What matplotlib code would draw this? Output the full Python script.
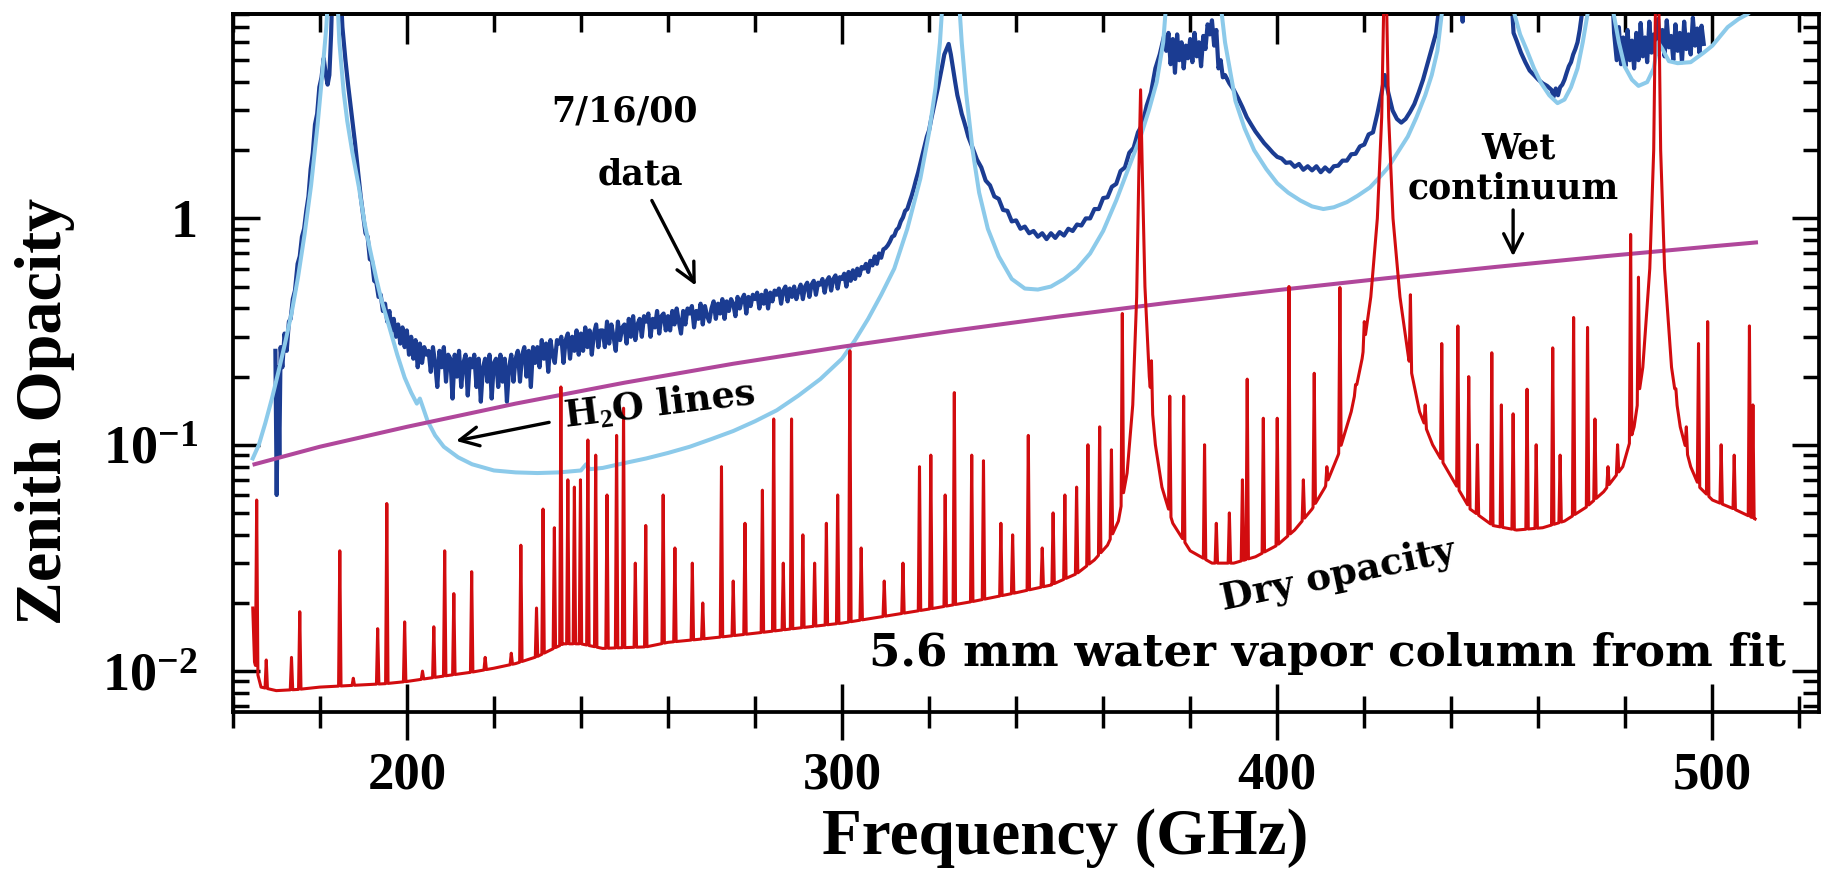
import numpy as np
import matplotlib
matplotlib.use("Agg")
import matplotlib.pyplot as plt
from matplotlib.ticker import FixedLocator, MultipleLocator, LogLocator, NullFormatter

# ---------------- data ----------------
# wet continuum (magenta)
wet_freq = [165, 180, 200, 225, 250, 275, 300, 325, 350, 375, 400, 425, 450, 475, 500, 510]
wet_tau = [0.082, 0.098, 0.12, 0.152, 0.188, 0.228, 0.271, 0.318, 0.369, 0.424,
           0.482, 0.544, 0.61, 0.68, 0.753, 0.783]

# model total opacity (light blue)
model_freq = [164.6, 166, 167.5, 169, 170.5, 172, 173.5, 175, 176.5, 178, 179.5, 180.5,
              181.5, 182.2, 183.8, 184.5, 185.5, 186.3, 187.5, 189, 190.3, 191.6, 193,
              194.2, 196, 197.8, 199.5, 201, 202.3, 203.0, 203.6, 204.8, 206.5, 208.5,
              211.8, 215, 220, 225, 230, 235, 240, 241.2, 242, 245, 250, 255, 260, 265,
              270, 275, 280, 285, 290, 295, 300, 303, 306, 309, 312, 315, 318, 320,
              321.5, 322.5, 323.5, 326.5, 327.5, 328.5, 330, 331.5, 333.5, 336, 339,
              342, 345, 348, 351, 354, 357, 360, 363, 366, 368.6, 370.5, 372.3, 373.8,
              375, 386.2, 388, 390.4, 392.5, 394.7, 397.5, 400, 402.5, 405.3, 408,
              410.6, 413, 416, 418.5, 421.3, 423.5, 425.5, 428, 430, 432, 434, 435.5,
              436.8, 437.8, 438.5, 453.5, 454.5, 455.8, 457.4, 459, 460.6, 462.5,
              464.4, 466, 467.5, 469, 470.2, 471.3, 472, 476.5, 477.3, 478.5, 479.8,
              481.5, 483, 485, 486.5, 487.5, 488.5, 490, 492, 495, 498, 500, 503.5,
              506, 508.1, 510]
model_tau = [0.087, 0.1, 0.125, 0.16, 0.21, 0.28, 0.38, 0.55, 0.85, 1.4, 2.6, 4.2,
             7.0, 12, 12, 6.0, 3.6, 2.7, 1.95, 1.37, 0.95, 0.72, 0.54,
             0.433, 0.33, 0.25, 0.198, 0.17, 0.152, 0.16, 0.148, 0.127, 0.11, 0.098,
             0.088, 0.082, 0.077, 0.0755, 0.075, 0.0755, 0.077, 0.082, 0.078, 0.079,
             0.083, 0.087, 0.092, 0.098, 0.106, 0.115, 0.127, 0.142, 0.165, 0.195,
             0.24, 0.29, 0.36, 0.46, 0.6, 0.9, 1.5, 2.4, 3.8, 6.0, 12, 12, 6.0, 3.6,
             2.0, 1.3, 0.9, 0.68, 0.54, 0.49, 0.485, 0.5, 0.54, 0.6, 0.7, 0.88, 1.2,
             1.7, 2.3, 3.0, 4.0, 6.0, 12, 12, 6.0, 3.3, 2.5, 2.0, 1.65, 1.43, 1.3,
             1.2, 1.13, 1.1, 1.12, 1.18, 1.26, 1.37, 1.52, 1.68, 2.0, 2.3, 2.8, 3.5,
             4.3, 5.5, 8.0, 12, 12, 8.0, 6.5, 5.5, 4.6, 3.97, 3.5, 3.23, 3.35, 3.8,
             4.6, 6.0, 8.0, 12, 12, 8.0, 6.0, 4.7, 4.1, 3.85, 4.0, 4.6, 6.0, 5.6,
             4.95, 4.85, 4.9, 5.4, 5.8, 7.0, 7.6, 8.0, 8.6]

# measured data 7/16/00 (dark blue): part near 183 GHz
data_a_freq = [169.8, 170.1, 170.4, 170.7, 171.0, 171.4, 171.9, 172.4, 172.9, 173.3,
               173.8, 174.3, 174.9, 175.4, 175.9, 176.4, 176.9, 177.4, 177.9, 178.4,
               178.9, 179.4, 179.9, 180.4, 180.9, 181.4, 181.8, 182.2, 182.6, 183.0,
               184.6, 185.2, 185.9, 186.5, 187.2, 188.1, 188.8, 189.4]
data_a_tau = [0.26, 0.06, 0.22, 0.09, 0.27, 0.22, 0.31, 0.26, 0.35, 0.36,
              0.44, 0.48, 0.63, 0.68, 0.83, 0.9, 1.08, 1.25, 1.65, 1.95,
              2.6, 2.9, 3.8, 4.2, 5.1, 4.3, 3.9, 4.3, 6.5, 12,
              12, 7.0, 5.0, 3.9, 3.0, 2.15, 1.6, 1.25]
# measured data, 190 - 324.5 GHz, sampled every 0.5 GHz
data_b_start, data_b_step = 190.0, 0.5
data_b_tau = [
    1.02, 0.86, 0.83, 0.66, 0.65, 0.53, 0.52, 0.45, 0.46, 0.39,
    0.42, 0.35, 0.39, 0.32, 0.36, 0.30, 0.34, 0.28, 0.33, 0.27,
    0.32, 0.25, 0.30, 0.24, 0.29, 0.22, 0.28, 0.23, 0.27, 0.25,
    0.26, 0.21, 0.27, 0.23, 0.18, 0.26, 0.22, 0.27, 0.19, 0.25,
    0.24, 0.16, 0.25, 0.20, 0.26, 0.18, 0.23, 0.25, 0.165, 0.24,
    0.22, 0.25, 0.18, 0.24, 0.155, 0.22, 0.24, 0.19, 0.25, 0.16,
    0.23, 0.24, 0.18, 0.25, 0.19, 0.24, 0.155, 0.22, 0.25, 0.19,
    0.24, 0.26, 0.19, 0.25, 0.27, 0.20, 0.26, 0.18, 0.27, 0.23,
    0.27, 0.22, 0.29, 0.24, 0.28, 0.21, 0.29, 0.25, 0.23, 0.29,
    0.28, 0.30, 0.23, 0.29, 0.31, 0.24, 0.30, 0.26, 0.32, 0.25,
    0.31, 0.26, 0.33, 0.27, 0.32, 0.25, 0.31, 0.34, 0.27, 0.32,
    0.32, 0.27, 0.35, 0.28, 0.34, 0.30, 0.26, 0.35, 0.29, 0.33,
    0.34, 0.28, 0.36, 0.30, 0.37, 0.29, 0.34, 0.36, 0.30, 0.37,
    0.35, 0.38, 0.30, 0.36, 0.33, 0.39, 0.31, 0.37, 0.38, 0.32,
    0.37, 0.32, 0.39, 0.34, 0.40, 0.35, 0.31, 0.39, 0.34, 0.40,
    0.38, 0.41, 0.33, 0.39, 0.36, 0.42, 0.34, 0.41, 0.37, 0.35,
    0.40, 0.43, 0.36, 0.42, 0.38, 0.44, 0.36, 0.43, 0.39, 0.44,
    0.42, 0.37, 0.45, 0.40, 0.44, 0.46, 0.38, 0.45, 0.41, 0.46,
    0.44, 0.47, 0.40, 0.46, 0.42, 0.48, 0.40, 0.47, 0.43, 0.48,
    0.46, 0.49, 0.42, 0.48, 0.50, 0.43, 0.49, 0.45, 0.50, 0.44,
    0.48, 0.51, 0.44, 0.50, 0.52, 0.45, 0.51, 0.53, 0.46, 0.52,
    0.51, 0.54, 0.47, 0.53, 0.55, 0.48, 0.54, 0.56, 0.49, 0.55,
    0.54, 0.57, 0.50, 0.58, 0.53, 0.59, 0.54, 0.60, 0.56, 0.61,
    0.60, 0.63, 0.58, 0.65, 0.62, 0.68, 0.63, 0.70, 0.67, 0.73,
    0.74, 0.76, 0.79, 0.83, 0.84, 0.89, 0.91, 0.97, 1.01, 1.08,
    1.10, 1.18, 1.26, 1.36, 1.48, 1.60, 1.75, 1.92, 2.10, 2.30,
    2.45, 2.75, 3.05, 3.40, 3.75, 4.2, 4.7, 5.3, 5.6, 5.9]
# measured data, 325 - 498 GHz
data_c_freq = [325.0, 325.5, 326.0, 326.5, 327.0, 327.5, 328.0, 328.5, 329.0, 330, 331, 332,
               333, 334, 335, 336, 337, 338, 339, 340, 341, 342, 343, 344, 345, 346, 347,
               348, 349, 350, 351, 352, 353, 354, 355, 356, 357, 358, 359, 360, 361, 362,
               363, 364, 365, 366, 367, 368, 369, 370, 371, 372, 373, 374, 374.5, 375,
               375.5, 376, 376.5, 377, 377.5, 378, 378.5, 379, 379.5, 380, 380.5, 381,
               381.5, 382, 382.5, 383, 383.5, 384, 384.5, 385, 385.5, 386, 386.5, 387,
               387.5, 388, 389, 390, 391, 392, 393, 394, 395, 396, 397, 398, 399, 400,
               401, 402, 403, 404, 405, 406, 407, 408, 409, 410, 411, 412, 413, 414, 415,
               416, 417, 418, 419, 420, 421, 422, 423, 424, 424.7, 425.5, 426.5, 427.5,
               428.5, 429.5, 430.5, 431.5, 432.5, 433.5, 434.5, 435.5, 436.5, 437.2, 438,
               442.0, 442.6, 443.2, 453.5, 454.3, 455, 456, 457, 458, 459, 460, 461, 462,
               463, 463.5, 464, 464.5, 465, 465.5, 466, 466.5, 467, 467.5, 468, 468.5,
               469, 469.5, 470, 470.5, 476.8, 477.4, 478, 478.5, 479, 479.5, 480, 480.5,
               481, 481.5, 482, 482.5, 483, 483.5, 484, 484.5, 485, 485.5, 486, 486.5,
               487, 487.5, 488, 488.5, 489, 489.5, 490, 490.5, 491, 491.5, 492, 492.5,
               493, 493.5, 494, 494.5, 495, 495.5, 496, 496.5, 497, 497.5, 498]
data_c_tau = [5.3, 4.6, 4.0, 3.5, 3.2, 2.9, 2.7, 2.5, 2.3, 2.05, 1.82, 1.68,
              1.47, 1.4, 1.25, 1.22, 1.09, 1.08, 0.97, 0.98, 0.9, 0.92, 0.86, 0.88, 0.83,
              0.86, 0.81, 0.86, 0.82, 0.87, 0.84, 0.9, 0.88, 0.94, 0.93, 1.0, 1.0, 1.1,
              1.1, 1.23, 1.24, 1.38, 1.42, 1.62, 1.68, 1.95, 2.05, 2.4, 2.6, 3.15, 3.6,
              4.6, 5.3, 6.4, 5.5, 6.6, 4.8, 6.2, 4.4, 6.5, 5.0, 6.0, 4.6, 5.8, 5.1, 6.2,
              4.9, 6.6, 5.2, 6.0, 4.7, 6.4, 5.6, 7.2, 6.5, 7.5, 5.8, 6.8, 4.6, 5.0, 4.2,
              4.3, 3.95, 3.7, 3.4, 3.1, 2.8, 2.6, 2.42, 2.28, 2.15, 2.05, 1.95, 1.87,
              1.84, 1.76, 1.77, 1.69, 1.74, 1.64, 1.7, 1.63, 1.7, 1.6, 1.68, 1.61, 1.7,
              1.71, 1.8, 1.8, 1.92, 1.93, 2.08, 2.12, 2.35, 2.4, 2.9, 3.6, 4.3, 3.6,
              3.0, 2.75, 2.65, 2.75, 2.95, 3.2, 3.6, 4.1, 4.8, 5.6, 6.6, 8.5, 12,
              12, 7.4, 12, 12, 6.6, 6.1, 5.4, 4.9, 4.5, 4.3, 4.1, 3.95, 3.85,
              3.7, 3.45, 3.75, 3.5, 3.8, 3.9, 4.1, 4.4, 4.7, 4.9, 5.3, 5.6,
              6.0, 6.8, 8.0, 12, 12, 6.6, 5.0, 7.0, 4.8, 6.3, 4.7, 6.8,
              5.0, 6.1, 4.6, 6.6, 5.0, 7.3, 5.2, 6.3, 4.9, 7.4, 5.4, 6.5,
              5.3, 7.6, 5.6, 6.8, 5.2, 7.5, 5.7, 6.4, 5.0, 7.2, 5.5, 6.6,
              4.9, 7.4, 5.6, 6.5, 5.3, 7.7, 5.8, 6.9, 5.4, 7.1, 5.9]

# dry opacity (red): smooth background incl. broad O2 lines ...
dry_base_freq = [164.6, 165.0, 166.5, 170, 175, 180, 185, 190, 195, 200, 205, 210, 215,
                 220, 225, 230, 233, 236, 240, 245, 250, 255, 260, 270, 280, 290, 300,
                 310, 320, 330, 340, 348, 354, 358, 361, 363.5, 365.5, 366.8, 367.7,
                 368.2, 368.6, 369.0, 369.6, 370.6, 372, 373.5, 376, 380, 385, 390, 395,
                 400, 404, 408, 411, 414, 417, 419.5, 421.5, 423, 424, 424.6, 425.0,
                 425.6, 426.6, 428.2, 430.2, 432.7, 435.7, 440, 444.3, 449.5, 455, 461,
                 466, 471, 475, 479.4, 482, 484, 485.6, 486.5, 487.0, 487.6, 488.1, 489.0,
                 490.6, 492.6, 495, 497, 500, 505, 509.8]
dry_base_tau = [0.019, 0.011, 0.0085, 0.0082, 0.0083, 0.0085, 0.0086, 0.0087, 0.0088,
                0.009, 0.0093, 0.0096, 0.0099, 0.0103, 0.0108, 0.0116, 0.0124, 0.0132,
                0.0132, 0.0126, 0.0127, 0.0128, 0.0134, 0.014, 0.0147, 0.0155, 0.0163,
                0.0175, 0.0188, 0.0203, 0.0222, 0.024, 0.027, 0.031, 0.036, 0.046, 0.075,
                0.15, 0.45, 1.6, 3.7, 1.6, 0.5, 0.2, 0.1, 0.065, 0.045, 0.034, 0.03, 0.03,
                0.032, 0.036, 0.042, 0.052, 0.065, 0.09, 0.14, 0.24, 0.45, 1.0, 2.8, 12,
                12, 2.8, 1.0, 0.45, 0.24, 0.14, 0.1, 0.072, 0.052, 0.044, 0.042, 0.043,
                0.046, 0.053, 0.062, 0.08, 0.12, 0.22, 0.6, 2.0, 12, 12, 2.0, 0.6, 0.22,
                0.12, 0.08, 0.065, 0.057, 0.052, 0.047]
# ... and the narrow line peaks on top of it
dry_line_freq = [165.5, 167.7, 173.5, 175.4, 184.6, 187.7, 193.3, 195.4, 199.5, 203.6,
                 206.2, 208.7, 210.8, 214.9, 218.0, 224.0, 226.2, 229.8, 231.3, 233.9,
                 235.4, 237.0, 238.5, 239.9, 241.6, 243.4, 246.0, 248.2, 249.8, 252.5,
                 254.9, 258.9, 261.6, 265.6, 268.0, 272.3, 275.0, 277.7, 281.7, 284.3,
                 286.5, 288.4, 291.0, 293.7, 296.4, 299.0, 301.8, 304.4, 309.7, 314.0,
                 317.8, 320.4, 323.7, 325.8, 329.8, 332.5, 336.5, 339.2, 342.8, 346.0,
                 348.5, 351.2, 353.9, 356.5, 359.2, 361.9, 364.4, 371.1, 375.3, 378.5,
                 383.3, 386.0, 389.0, 392.0, 393.1, 396.8, 400.0, 402.7, 406.0, 408.5,
                 411.4, 414.4, 418.0, 420.0, 430.6, 434.0, 437.8, 441.5, 444.0, 446.0,
                 449.3, 451.5, 454.2, 457.4, 459.5, 463.3, 465.0, 468.1, 471.3, 473.0,
                 476.0, 478.2, 481.2, 483.0, 491.6, 494.0, 496.8, 498.9, 502.0, 505.0,
                 508.5, 509.3]
dry_line_tau = [0.057, 0.0112, 0.0115, 0.0183, 0.034, 0.0093, 0.0154, 0.055, 0.0165, 0.010,
                0.0157, 0.034, 0.022, 0.0275, 0.0115, 0.012, 0.036, 0.019, 0.052, 0.043,
                0.18, 0.07, 0.065, 0.07, 0.105, 0.09, 0.06, 0.11, 0.145, 0.03,
                0.044, 0.06, 0.035, 0.03, 0.02, 0.08, 0.025, 0.045, 0.063, 0.13,
                0.03, 0.13, 0.04, 0.03, 0.045, 0.06, 0.26, 0.035, 0.025, 0.03,
                0.08, 0.09, 0.06, 0.17, 0.09, 0.085, 0.045, 0.04, 0.11, 0.035,
                0.05, 0.06, 0.065, 0.1, 0.12, 0.095, 0.38, 0.235, 0.164, 0.164,
                0.1, 0.045, 0.05, 0.07, 0.195, 0.131, 0.131, 0.5, 0.07, 0.207,
                0.08, 0.495, 0.15, 0.35, 0.46, 0.15, 0.28, 0.335, 0.2, 0.1,
                0.255, 0.15, 0.137, 0.176, 0.1, 0.268, 0.09, 0.365, 0.33, 0.13,
                0.08, 0.1, 0.85, 0.55, 0.08, 0.12, 0.28, 0.35, 0.1, 0.09,
                0.335, 0.15]

# ---------------- helpers ----------------
def with_lines(bf, bv, lf, lv, hw=0.28):
    """Background polyline with narrow line peaks inserted."""
    bf = np.asarray(bf, float)
    bv = np.asarray(bv, float)
    logb = np.log10(bv)
    keep = np.ones(len(bf), bool)
    for f in lf:
        keep &= ~((bf > f - hw) & (bf < f + hw))
    pts = [(f, v) for f, v, k in zip(bf, bv, keep) if k]
    for f, p in zip(lf, lv):
        lo = 10 ** np.interp(f - hw, bf, logb)
        hi = 10 ** np.interp(f + hw, bf, logb)
        pts += [(f - hw, lo), (f, max(p, lo, hi)), (f + hw, hi)]
    pts.sort()
    return np.array([p[0] for p in pts]), np.array([p[1] for p in pts])

plt.rcParams['font.family'] = ['DejaVu Serif']
plt.rcParams['mathtext.fontset'] = 'custom'
plt.rcParams['mathtext.rm'] = 'Liberation Serif:bold'
plt.rcParams['mathtext.it'] = 'Liberation Serif:bold'
plt.rcParams['mathtext.bf'] = 'Liberation Serif:bold'
SERIF_B = ['Liberation Serif', 'DejaVu Serif']

fig = plt.figure(figsize=(18.24, 8.69), dpi=100)
ax = fig.add_axes([0.1276, 0.1807, 0.8697, 0.8032])

C_DATA = '#1b3c92'
C_MODEL = '#8ccaea'
C_DRY = '#d20c0f'
C_WET = '#b0479b'

data_b_freq = data_b_start + data_b_step * np.arange(len(data_b_tau))
data_freq = np.concatenate([data_a_freq, data_b_freq, data_c_freq])
data_tau = np.concatenate([data_a_tau, data_b_tau, data_c_tau])

ax.plot(data_freq, data_tau, color=C_DATA, lw=3.0, zorder=2)
ax.plot(model_freq, model_tau, color=C_MODEL, lw=2.9, zorder=3)
ax.plot(wet_freq, wet_tau, color=C_WET, lw=2.9, zorder=4)
dfq, dtau = with_lines(dry_base_freq, dry_base_tau, dry_line_freq, dry_line_tau)
ax.plot(dfq, dtau, color=C_DRY, lw=2.2, zorder=5)

ax.set_yscale('log')
ax.set_xlim(160, 524.5)
ax.set_ylim(0.0066, 8.0)

# ticks
ax.xaxis.set_major_locator(FixedLocator([200, 300, 400, 500]))
ax.xaxis.set_minor_locator(MultipleLocator(20))
ax.set_xticklabels(['200', '300', '400', '500'], fontweight='bold', family=SERIF_B)
ax.tick_params(axis='x', which='major', direction='inout', length=41, width=2.5,
               labelsize=38, pad=8, top=False)
ax.tick_params(axis='x', which='minor', direction='inout', length=23, width=2.5, top=False)

ax.yaxis.set_major_locator(FixedLocator([0.01, 0.1, 1]))
ax.yaxis.set_minor_locator(LogLocator(base=10, subs=np.arange(2, 10)))
ax.yaxis.set_minor_formatter(NullFormatter())
ax.set_yticklabels([r'$10^{-2}$', r'$10^{-1}$', '1'], fontweight='bold', family=SERIF_B)
ax.tick_params(axis='y', which='major', direction='in', length=19.5, width=2.5,
               labelsize=39, pad=25, left=True, right=True)
ax.tick_params(axis='y', which='minor', direction='in', length=11.5, width=2.5,
               left=True, right=True)

sec = ax.secondary_xaxis('top')
sec.xaxis.set_major_locator(FixedLocator([200, 300, 400, 500]))
sec.xaxis.set_minor_locator(MultipleLocator(20))
sec.tick_params(axis='x', which='major', direction='in', length=21.5, width=2.5,
                labeltop=False)
sec.tick_params(axis='x', which='minor', direction='in', length=13, width=2.5)
for s in sec.spines.values():
    s.set_linewidth(2.7)
for s in ax.spines.values():
    s.set_linewidth(2.7)

# axis labels
fig.text(45 / 1824, 1 - 411 / 869, 'Zenith Opacity', rotation=90, ha='center',
         va='center', fontsize=47.5, family=SERIF_B, fontweight='bold')
fig.text(1065 / 1824, 1 - 838 / 869, 'Frequency (GHz)', ha='center', va='center',
         fontsize=47, family=SERIF_B, fontweight='bold')

# annotations
ann = dict(fontsize=25, fontweight='bold', ha='center', va='center', zorder=6)
arw = dict(arrowstyle='->', lw=2.4, color='black', mutation_scale=34,
           shrinkA=0, shrinkB=0)
ax.text(250.0, 2.96, '7/16/00', **ann)
ax.text(253.6, 1.56, 'data', **ann)
ax.annotate('', xy=(266.4, 0.505), xytext=(256.3, 1.20), arrowprops=arw, zorder=6)
ax.text(258.0, 0.149, r'H$_2$O lines', rotation=7, fontsize=26.5, fontweight='bold',
        ha='center', va='center', zorder=6)
ax.annotate('', xy=(211.3, 0.104), xytext=(232.7, 0.1256), arrowprops=arw, zorder=6)
ax.text(455.5, 2.03, 'Wet', **ann)
ax.text(454.2, 1.35, 'continuum', **ann)
ax.annotate('', xy=(454.2, 0.68), xytext=(454.2, 1.09), arrowprops=arw, zorder=6)
ax.text(414.0, 0.0265, 'Dry opacity', rotation=12, fontsize=27, fontweight='bold',
        ha='center', va='center', zorder=6)
ax.text(517.0, 0.012, '5.6 mm water vapor column from fit', fontsize=32.5,
        fontweight='bold', ha='right', va='center', zorder=6)

fig.savefig('out.png', dpi=100)
